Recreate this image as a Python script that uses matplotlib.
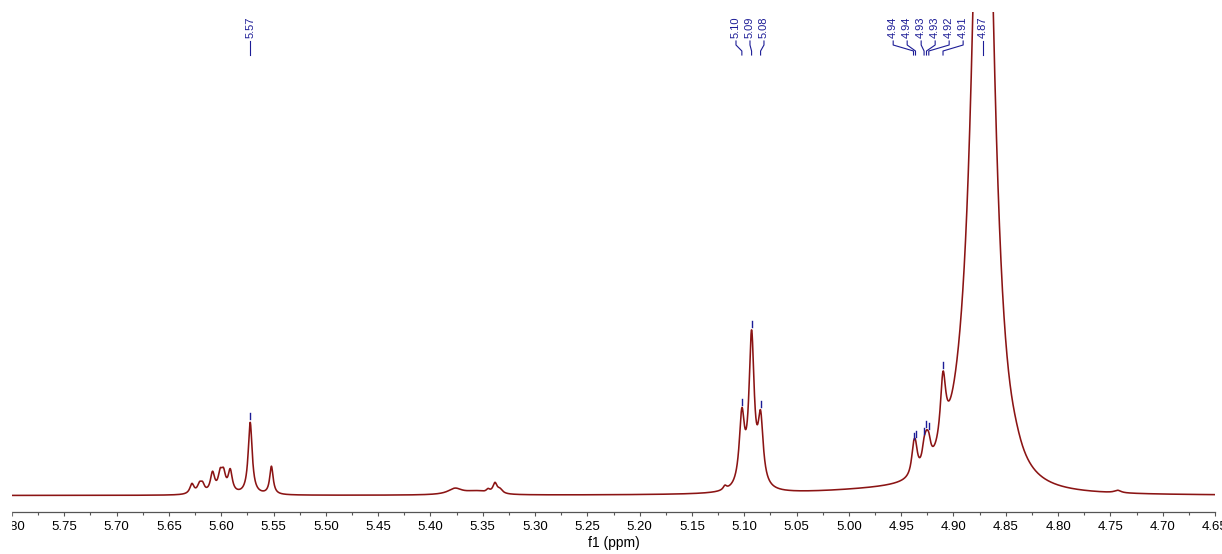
import numpy as np
import matplotlib.pyplot as plt
from matplotlib.ticker import MultipleLocator, FormatStrFormatter
from matplotlib.patches import Rectangle

plt.rcParams['font.family'] = ['Liberation Sans', 'DejaVu Sans']

# peak table: shift (ppm), height, half width at half height (ppm), shape exponent
shift = np.array([5.6280, 5.6208, 5.6179, 5.6083, 5.6010, 5.5978, 5.5914, 5.5723, 5.5520,
                  5.3765, 5.3565, 5.3449, 5.3383, 5.3335,
                  5.1185, 5.1023, 5.0930, 5.0844,
                  4.9382, 4.9363, 4.9281, 4.9258, 4.9236, 4.9100,
                  4.8716, 4.8921, 4.9704, 4.8404, 4.7430])
height = np.array([10, 8, 8, 20, 17, 17, 22, 72, 28,
                   6, 3.5, 3, 10, 4,
                   4, 70, 150, 65,
                   21, 21, 17, 17, 17, 67,
                   840, 22, 4, 5, 2.5])
hwhm = np.array([0.0024, 0.0024, 0.0024, 0.0025, 0.0024, 0.0024, 0.0024, 0.0023, 0.0020,
                 0.0080, 0.0130, 0.0020, 0.0024, 0.0030,
                 0.0020, 0.0030, 0.0030, 0.0030,
                 0.0024, 0.0024, 0.0024, 0.0024, 0.0024, 0.0031,
                 0.0133, 0.0191, 0.086, 0.0076, 0.0038])
power = np.ones(len(shift))
power[24] = 1.35

# picked peaks (labelled) and how their labels are grouped
picked = [5.5723, 5.1023, 5.0930, 5.0844, 4.9382, 4.9363, 4.9281, 4.9258, 4.9236, 4.9100, 4.8716]
groups = [[0], [1, 2, 3], [4, 5, 6, 7, 8, 9], [10]]
group_shift = [0, 0.0013, -0.0028, 0]

ppm = np.linspace(5.80, 4.65, 8000)
spec = np.zeros_like(ppm)
for c, h, w, p in zip(shift, height, hwhm, power):
    spec += h / (1 + ((ppm - c) / w) ** 2) ** p

fig = plt.figure(figsize=(12.22, 5.54), dpi=100)
ax = fig.add_axes([12 / 1222, 42 / 554, 1203 / 1222, 500 / 554])
ax.plot(ppm, spec, color='#8b1414', lw=1.15)
ax.set_xlim(5.80, 4.65)
ax.set_ylim(-16.5, 483.5)

for s in ['left', 'right', 'top']:
    ax.spines[s].set_visible(False)
ax.spines['bottom'].set_color('#555555')
ax.spines['bottom'].set_linewidth(0.9)
ax.set_yticks([])
ax.xaxis.set_major_locator(MultipleLocator(0.05))
ax.xaxis.set_minor_locator(MultipleLocator(0.025))
ax.xaxis.set_major_formatter(FormatStrFormatter('%.2f'))
ax.tick_params(axis='x', which='major', length=3.2, width=0.8, color='#555555',
               labelsize=9.5, pad=3)
ax.tick_params(axis='x', which='minor', length=1.8, width=0.8, color='#555555')
fig.text(613.5 / 1222, 11 / 554, 'f1 (ppm)', ha='center', va='center', fontsize=10)

# the scale stops at the left edge of the plot area
fig.patches.append(Rectangle((0, 0), 11 / 1222, 42 / 554, transform=fig.transFigure,
                             color='white', zorder=10))

# peak labels along the top with connectors
blue = '#1c1c96'
trans = ax.get_xaxis_transform()
step = 14 / 1046.7
for g, gs in zip(groups, group_shift):
    vals = [picked[i] for i in g]
    mid = np.mean(vals) + gs
    n = len(vals)
    for k, v in enumerate(vals):
        lx = mid + ((n - 1) / 2 - k) * step if n > 1 else v
        ax.text(lx, 0.948, f'{v:.2f}', rotation=90, ha='center', va='bottom',
                fontsize=8, color=blue, transform=trans)
        ax.plot([lx, lx, v, v], [0.942, 0.934, 0.922, 0.914], color=blue, lw=0.8,
                transform=trans, clip_on=False)
        top = np.interp(-v, -ppm, spec)
        ax.plot([v, v], [top + 3, top + 9], color=blue, lw=1.0)

fig.savefig('out.png', dpi=100)
